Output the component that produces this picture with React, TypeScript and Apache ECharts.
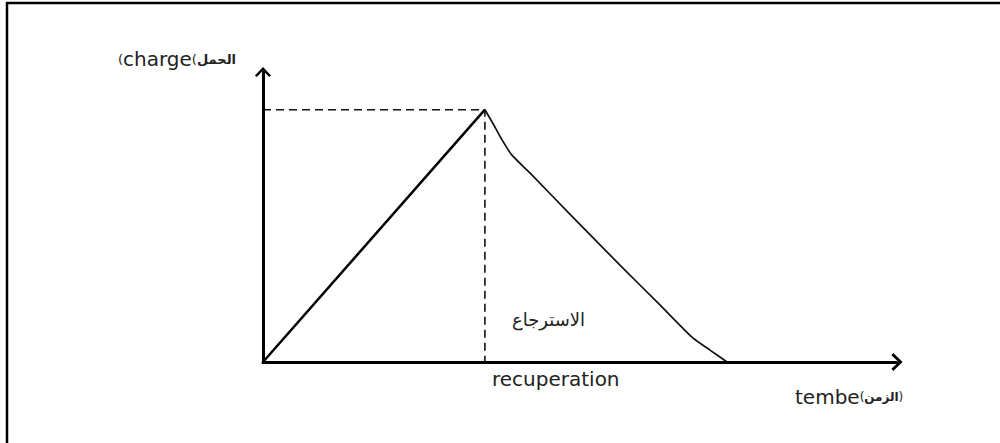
import React, { useEffect, useRef } from "react";
import * as echarts from "echarts";

// Load (charge) vs time (tembe) — schematic values
const riseX = [0, 35];
const riseY = [0, 87];
const recoveryX = [35, 36.2, 37.6, 39.2, 42.1, 48.4, 56.3, 62.6, 67.8, 70.5, 73.2];
const recoveryY = [87, 82.5, 77, 71.5, 65.2, 51, 33.4, 19.7, 8.3, 4.1, 0];
const peakX = 35;
const peakY = 87;
const axisMax = 100;

const FONT = "'DejaVu Sans', 'Liberation Sans', sans-serif";
const CHEVRON = "path://M50,0 L100,52 L88,62 L50,22 L12,62 L0,52 Z";

export default function App() {
  const ref = useRef<HTMLDivElement>(null);
  useEffect(() => {
    if (!ref.current) return;
    const chart = echarts.init(ref.current, undefined, { renderer: "svg" });
    const rise = riseX.map((x, i) => [x, riseY[i]]);
    const recovery = recoveryX.map((x, i) => [x, recoveryY[i]]);
    const guide = [
      [0, peakY],
      [peakX, peakY],
      [peakX, 0],
    ];
    chart.setOption({
      animation: false,
      backgroundColor: "#ffffff",
      grid: { left: 263, right: 103, top: 72, bottom: 81 },
      xAxis: {
        type: "value",
        min: 0,
        max: axisMax,
        axisLine: {
          show: true,
          onZero: false,
          symbol: ["none", CHEVRON],
          symbolSize: [18, 13],
          lineStyle: { color: "#000", width: 3 },
        },
        axisTick: { show: false },
        axisLabel: { show: false },
        splitLine: { show: false },
      },
      yAxis: {
        type: "value",
        min: 0,
        max: axisMax,
        axisLine: {
          show: true,
          onZero: false,
          symbol: ["none", CHEVRON],
          symbolSize: [18, 10],
          lineStyle: { color: "#000", width: 3 },
        },
        axisTick: { show: false },
        axisLabel: { show: false },
        splitLine: { show: false },
      },
      series: [
        {
          type: "line",
          data: guide,
          symbol: "none",
          lineStyle: { color: "#111", width: 1.6, type: [8, 5] },
          z: 1,
        },
        {
          type: "line",
          data: rise,
          symbol: "none",
          lineStyle: { color: "#000", width: 2.5 },
          z: 3,
        },
        {
          type: "line",
          data: recovery,
          symbol: "none",
          smooth: 0.2,
          lineStyle: { color: "#111", width: 1.7 },
          z: 3,
        },
      ],
      graphic: [
        {
          type: "polyline",
          shape: { points: [[7, 443], [7, 3], [1000, 3]] },
          style: { stroke: "#000", lineWidth: 2.5, fill: "none" },
        },
        {
          type: "text",
          left: 118,
          top: 49,
          style: {
            text: "{p|(}{a|charge}{p|(}{b|الحمل}",
            rich: {
              a: { fontFamily: FONT, fontSize: 20, fill: "#222" },
              p: { fontFamily: FONT, fontSize: 13, fill: "#222" },
              b: { fontFamily: FONT, fontSize: 13, fontWeight: "bold", fill: "#222" },
            },
          },
        },
        {
          type: "text",
          left: 795,
          top: 387,
          style: {
            text: "{a|tembe}{p|(}{b|الزمن}{p|)}",
            rich: {
              a: { fontFamily: FONT, fontSize: 20, fill: "#222" },
              p: { fontFamily: FONT, fontSize: 12, fill: "#222" },
              b: { fontFamily: FONT, fontSize: 12, fontWeight: "bold", fill: "#222" },
            },
          },
        },
        {
          type: "text",
          left: 492,
          top: 369,
          style: { text: "recuperation", fontFamily: FONT, fontSize: 20, fill: "#222" },
        },
        {
          type: "text",
          left: 512,
          top: 310,
          style: { text: "الاسترجاع", fontFamily: FONT, fontSize: 18, fill: "#222" },
        },
      ],
    });
    return () => chart.dispose();
  }, []);
  return (
    <div
      ref={ref}
      style={{ position: "fixed", left: 0, top: 0, width: 1000, height: 443, background: "#fff" }}
    />
  );
}
